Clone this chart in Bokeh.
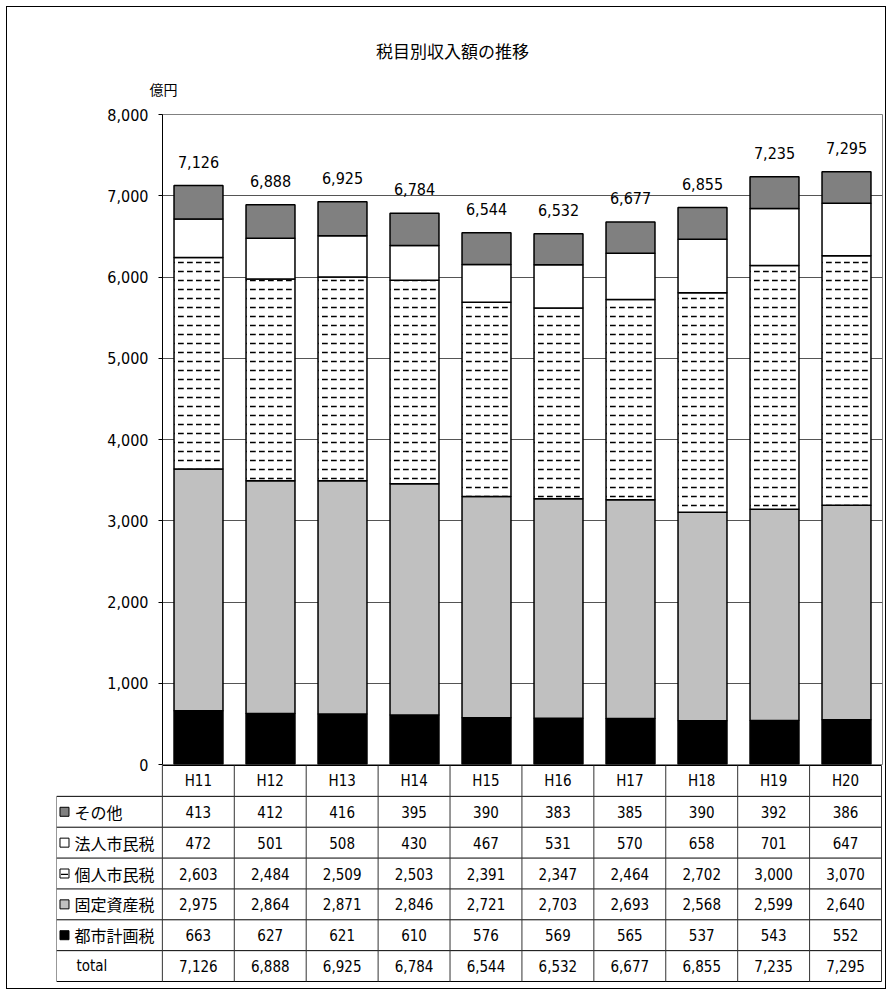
from bokeh.plotting import figure
from bokeh.models import Range1d, FactorRange, FixedTicker, NumeralTickFormatter, ColumnDataSource
from bokeh.layouts import column
from bokeh.embed import file_html
from bokeh.resources import INLINE
from bokeh.core.properties import value

# ---------------- data ----------------
cats = ["H11", "H12", "H13", "H14", "H15", "H16", "H17", "H18", "H19", "H20"]
toshi = [663, 627, 621, 610, 576, 569, 565, 537, 543, 552]          # 都市計画税
kotei = [2975, 2864, 2871, 2846, 2721, 2703, 2693, 2568, 2599, 2640]  # 固定資産税
kojin = [2603, 2484, 2509, 2503, 2391, 2347, 2464, 2702, 3000, 3070]  # 個人市民税
hojin = [472, 501, 508, 430, 467, 531, 570, 658, 701, 647]          # 法人市民税
sonota = [413, 412, 416, 395, 390, 383, 385, 390, 392, 386]         # その他
total = [7126, 6888, 6925, 6784, 6544, 6532, 6677, 6855, 7235, 7295]
y_ticks = [0, 1000, 2000, 3000, 4000, 5000, 6000, 7000, 8000]

title_text = "税目別収入額の推移"
unit_text = "億円"
row_labels = ["その他", "法人市民税", "個人市民税", "固定資産税", "都市計画税"]
total_label = "total"

NUM_FONT = "DejaVu Sans Condensed, Roboto, sans-serif"
JP_FONT = "Noto Sans CJK JP"

stack_keys = ["toshi", "kotei", "kojin", "hojin", "sonota"]
stack_colors = ["#000000", "#C0C0C0", "#FFFFFF", "#FFFFFF", "#808080"]
stack_hatch = [" ", " ", "horizontal_dash", " ", " "]

src = ColumnDataSource(dict(cat=cats, toshi=toshi, kotei=kotei, kojin=kojin,
                            hojin=hojin, sonota=sonota, total=total,
                            total_lbl=[f"{v:,}" for v in total]))

W = 878

# ---------------- header (title + unit) ----------------
h = figure(x_range=Range1d(7, 7 + W), y_range=Range1d(112, 7), width=W, height=105,
           min_border=0, output_backend="svg", toolbar_location=None)
h.axis.visible = False
h.grid.visible = False
h.outline_line_color = None
h.frame_align = False
h.text(x=[452], y=[50], text=[title_text], text_align="center", text_baseline="middle",
       text_font=value(JP_FONT), text_font_size="17px", text_color="black")
h.text(x=[163], y=[88], text=[unit_text], text_align="center", text_baseline="middle",
       text_font=value(JP_FONT), text_font_size="14px", text_color="black")

# ---------------- chart ----------------
p = figure(x_range=FactorRange(factors=cats, range_padding=0),
           y_range=Range1d(0, 8000), width=W, height=670,
           min_border_left=155, min_border_right=3, min_border_top=10,
           min_border_bottom=10, output_backend="svg", toolbar_location=None,
           styles={"margin-top": "-8px"})
p.frame_align = False
p.border_fill_color = None

p.vbar_stack(stack_keys, x="cat", width=0.68, source=src,
             fill_color=stack_colors, line_color="black", line_width=1.5,
             hatch_pattern=stack_hatch, hatch_color="black",
             hatch_scale=9, hatch_weight=1.5)

p.text(x="cat", y="total", text="total_lbl", source=src, text_align="center",
       text_baseline="middle", y_offset=-24, text_font=value(NUM_FONT),
       text_font_size="16px", text_color="black")

p.xaxis.visible = False
p.xgrid.visible = False
p.ygrid.ticker = FixedTicker(ticks=y_ticks[1:-1])
p.ygrid.grid_line_color = "#555555"
p.outline_line_color = "#808080"
p.yaxis.ticker = FixedTicker(ticks=y_ticks)
p.yaxis.formatter = NumeralTickFormatter(format="0,0")
p.yaxis.axis_line_color = "black"
p.yaxis.major_tick_line_color = "black"
p.yaxis.major_tick_out = 4
p.yaxis.major_tick_in = 0
p.yaxis.minor_tick_line_color = None
p.yaxis.major_label_standoff = 10
p.yaxis.major_label_text_font = NUM_FONT
p.yaxis.major_label_text_font_size = "16px"
p.yaxis.major_label_text_color = "black"

# ---------------- table ----------------
n = len(cats)
lab_w = 106 / 72
nrows = 7
row_px = 216 / nrows
t = figure(x_range=Range1d(-lab_w, n + 1 / 72),
           y_range=Range1d(-(224 - 217) / row_px, nrows + 1 / row_px),
           width=W, height=224, min_border_left=49, min_border_right=3,
           min_border_top=0, min_border_bottom=0,
           output_backend="svg", toolbar_location=None,
           styles={"margin-top": "-10px"})
t.frame_align = False
t.axis.visible = False
t.grid.visible = False
t.outline_line_color = None
t.border_fill_color = None
t.background_fill_color = None

# horizontal lines (top line spans data columns only)
hx0 = [0] + [-lab_w] * nrows
hx1 = [n] * (nrows + 1)
hy = [nrows] + list(range(nrows - 1, -1, -1))
t.segment(x0=hx0, y0=hy, x1=hx1, y1=hy, line_color="black", line_width=1)
# vertical lines
vx = [-lab_w] + list(range(n + 1))
vy1 = [nrows - 1] + [nrows] * (n + 1)
t.segment(x0=vx, y0=[0] * len(vx), x1=vx, y1=vy1, line_color="#333333", line_width=1)

# header row
t.text(x=[i + 0.5 for i in range(n)], y=[nrows - 0.5] * n, text=cats,
       text_align="center", text_baseline="middle", text_font=value(NUM_FONT),
       text_font_size="15px", text_color="black")

row_data = [sonota, hojin, kojin, kotei, toshi, total]
row_colors = ["#808080", "#FFFFFF", "#FFFFFF", "#C0C0C0", "#000000"]

vx_list, vy_list, vt_list = [], [], []
for r, arr in enumerate(row_data):
    yc = nrows - 1.5 - r
    for i, v in enumerate(arr):
        vx_list.append(i + 0.5)
        vy_list.append(yc)
        vt_list.append(f"{v:,}")
t.text(x=vx_list, y=vy_list, text=vt_list, text_align="center", text_baseline="middle",
       text_font=value(NUM_FONT), text_font_size="15px", text_color="black")

lab_y = [nrows - 1.5 - r for r in range(len(row_labels))]
mk_x = -lab_w + 8 / 72
t.scatter(x=[mk_x] * len(row_labels), y=lab_y, marker="square", size=9,
          fill_color=row_colors, line_color="black", line_width=1)
t.scatter(x=[mk_x], y=[lab_y[2] - 0.03], marker="dash", size=7,
          line_color="black", line_width=1.3)
t.text(x=[-lab_w + 18 / 72] * len(row_labels), y=lab_y, text=row_labels,
       text_align="left", text_baseline="middle", text_font=value(JP_FONT),
       text_font_size="16px", text_color="black")
t.text(x=[-lab_w + 20 / 72], y=[0.5], text=[total_label], text_align="left",
       text_baseline="middle", text_font=value(NUM_FONT), text_font_size="15px",
       text_color="black")

layout = column(h, p, t, styles={"border": "1px solid black",
                                 "margin-left": "6px", "margin-top": "6px"})
open("out.html", "w").write(file_html(layout, INLINE))
